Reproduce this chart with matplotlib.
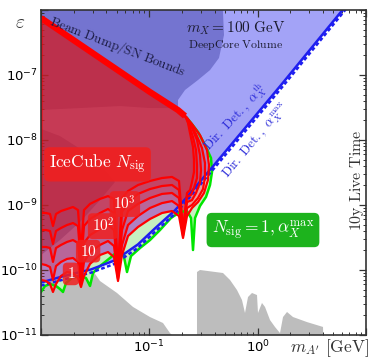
import numpy as np
import matplotlib
matplotlib.use("Agg")
import matplotlib.pyplot as plt
from matplotlib.path import Path
from matplotlib.patches import PathPatch, Polygon
from matplotlib import ticker

# ---------------- data (m in GeV, epsilon) ----------------
# common upper edge of the IceCube sensitivity region
top_m = [0.0100, 0.0434, 0.1014, 0.1839, 0.2135]
top_eps = [7.53e-7, 1.43e-7, 5.47e-8, 2.89e-8, 2.34e-8]

# common mass grid of the lower edge of the N_sig contours
bot_m = [0.0100, 0.01112, 0.01211, 0.01290, 0.01375, 0.01530, 0.01738, 0.01974,
         0.02195, 0.02340, 0.02494, 0.02834, 0.03504, 0.04155, 0.04720, 0.05138,
         0.05594, 0.06356, 0.07862, 0.1014, 0.1309, 0.1619, 0.1879, 0.2046, 0.2227]

n1_eps = [7.02e-11, 6.77e-11, 6.09e-11, 4.59e-11, 6.09e-11, 8.08e-11, 9.31e-11, 8.99e-11,
          7.53e-11, 5.47e-11, 8.08e-11, 1.24e-10, 1.70e-10, 1.89e-10, 1.58e-10, 6.77e-11,
          1.70e-10, 3.33e-10, 4.59e-10, 6.09e-10, 7.53e-10, 8.08e-10, 6.77e-10, 3.11e-10, 6.77e-10]
n1_rm = [0.2477, 0.2813, 0.3196, 0.3480, 0.3555, 0.3407, 0.2935, 0.2477, 0.2227]
n1_re = [8.99e-10, 1.11e-9, 1.53e-9, 2.43e-9, 4.12e-9, 7.02e-9, 1.19e-8, 1.76e-8, 2.18e-8]

n10_eps = [1.24e-10, 1.19e-10, 1.11e-10, 7.02e-11, 1.15e-10, 1.33e-10, 1.48e-10, 1.53e-10,
           1.33e-10, 6.09e-11, 1.33e-10, 1.89e-10, 2.43e-10, 2.79e-10, 2.34e-10, 7.27e-11,
           2.43e-10, 4.92e-10, 6.77e-10, 8.99e-10, 1.07e-9, 1.15e-9, 9.66e-10, 3.33e-10, 8.99e-10]
n10_rm = [0.2477, 0.2813, 0.3129, 0.3265, 0.3265, 0.3062, 0.2697, 0.2374, 0.2227]
n10_re = [1.0e-9, 1.28e-9, 1.76e-9, 2.70e-9, 4.43e-9, 7.53e-9, 1.24e-8, 1.83e-8, 2.18e-8]

n100_eps = [2.26e-10, 2.26e-10, 2.18e-10, 1.33e-10, 2.18e-10, 2.43e-10, 2.70e-10, 2.89e-10,
            2.60e-10, 8.08e-11, 2.60e-10, 3.45e-10, 4.27e-10, 4.92e-10, 4.12e-10, 7.80e-11,
            4.12e-10, 8.08e-10, 1.04e-9, 1.28e-9, 1.48e-9, 1.53e-9, 1.28e-9, 3.58e-10, 1.11e-9]
n100_rm = [0.2477, 0.2697, 0.2935, 0.2999, 0.2935, 0.2754, 0.2477, 0.2275]
n100_re = [1.19e-9, 1.53e-9, 2.18e-9, 3.45e-9, 5.88e-9, 1.0e-8, 1.53e-8, 2.03e-8]

n1e3_eps = [4.12e-10, 4.12e-10, 3.98e-10, 2.51e-10, 3.98e-10, 4.43e-10, 4.92e-10, 5.28e-10,
            4.75e-10, 1.19e-10, 4.75e-10, 6.09e-10, 7.53e-10, 8.67e-10, 7.53e-10, 8.37e-11,
            7.80e-10, 1.11e-9, 1.48e-9, 1.76e-9, 1.96e-9, 2.03e-9, 1.70e-9, 3.84e-10, 1.33e-9]
n1e3_rm = [0.2425, 0.2584, 0.2754, 0.2754, 0.2697, 0.2530, 0.2324, 0.2227]
n1e3_re = [1.43e-9, 1.83e-9, 2.60e-9, 4.12e-9, 7.02e-9, 1.11e-8, 1.70e-8, 2.10e-8]

n1e4_eps = [7.53e-10, 7.53e-10, 7.27e-10, 4.75e-10, 7.27e-10, 8.08e-10, 8.67e-10, 9.31e-10,
            8.37e-10, 2.03e-10, 8.37e-10, 1.04e-9, 1.24e-9, 1.37e-9, 1.24e-9, 1.0e-10,
            1.28e-9, 1.64e-9, 2.03e-9, 2.34e-9, 2.60e-9, 2.70e-9, 2.34e-9, 4.12e-10, 1.53e-9]
n1e4_rm = [0.2374, 0.2477, 0.2584, 0.2584, 0.2530, 0.2374, 0.2275, 0.2181]
n1e4_re = [1.70e-9, 2.26e-9, 3.22e-9, 4.92e-9, 7.80e-9, 1.28e-8, 1.83e-8, 2.18e-8]

# N_sig = 1 with alpha_X^max (green), lower edge left->right then up the right side
green_m = [0.0100, 0.01089, 0.01211, 0.01375, 0.01497, 0.01596, 0.01702, 0.01933, 0.02291,
           0.02602, 0.02834, 0.03020, 0.03504, 0.04336, 0.05138, 0.05714, 0.06222, 0.06774,
           0.08204, 0.1014, 0.1254, 0.1585, 0.1919, 0.2227, 0.2425, 0.2530, 0.2640, 0.2935,
           0.3335, 0.3631, 0.3789, 0.3709, 0.3265, 0.2813, 0.2425, 0.2227]
green_eps = [4.59e-11, 5.68e-11, 6.09e-11, 5.68e-11, 5.1e-11, 4.59e-11, 6.31e-11, 7.53e-11,
             8.08e-11, 7.53e-11, 5.68e-11, 8.99e-11, 1.15e-10, 1.53e-10, 1.96e-10, 1.89e-10,
             9.31e-11, 1.64e-10, 2.18e-10, 2.89e-10, 4.12e-10, 6.31e-10, 7.80e-10, 8.08e-10,
             6.31e-10, 2.03e-10, 6.31e-10, 9.66e-10, 1.33e-9, 2.03e-9, 3.22e-9, 5.28e-9,
             8.37e-9, 1.33e-8, 1.83e-8, 2.18e-8]

# direct detection bounds
dd_m = [0.0100, 0.01596, 0.02895, 0.04821, 0.07862, 0.1128, 0.1726, 0.2135, 0.3870, 1.608, 6.134, 7.43]
dd_th_eps = [6.4e-11, 8.0e-11, 1.02e-10, 1.41e-10, 2.48e-10, 4.37e-10, 8.3e-10, 1.22e-9,
             3.93e-9, 6.7e-8, 1.02e-6, 1.52e-6]
dd_max_eps = [5.75e-11, 7.1e-11, 9.1e-11, 1.25e-10, 2.2e-10, 3.88e-10, 7.35e-10, 1.08e-9,
              3.5e-9, 5.95e-8, 9.1e-7, 1.35e-6]

# beam dump and supernova bounds
bd_m = [0.0095, 0.4687, 0.4889, 0.4395, 0.3631, 0.2813, 0.2135, 0.1839, 0.1839, 0.1014,
        0.05361, 0.02291, 0.0095]
bd_eps = [2e-6, 2e-6, 4.12e-7, 1.83e-7, 1.19e-7, 8.37e-8, 5.88e-8, 4.12e-8, 3.10e-8, 3.10e-8,
          3.33e-8, 3.10e-8, 2.89e-8]
sn_m = [0.0095, 0.01497, 0.02548, 0.03898, 0.04821, 0.03504, 0.02291, 0.01497, 0.0095]
sn_eps = [1.53e-8, 1.15e-8, 6.54e-9, 3.45e-9, 2.26e-9, 1.19e-9, 5.47e-10, 2.89e-10, 1.58e-10]

# grey bounds
gl_m = [0.0095, 0.0095, 0.01596, 0.03020, 0.03504, 0.05030, 0.07068, 0.1014, 0.1337, 0.1552, 0.1619, 0.165]
gl_eps = [1e-12, 6.09e-11, 7.53e-11, 9.66e-11, 6.77e-11, 4.43e-11, 2.70e-11, 1.89e-11, 1.53e-11,
          1.07e-11, 1.0e-11, 1e-12]
gr_m = [0.2754, 0.2754, 0.2935, 0.4786, 0.5557, 0.6445, 0.7168, 0.7640, 0.8145, 0.8866, 0.9860,
        1.007, 1.096, 1.169, 1.300, 1.445, 1.608, 1.714, 1.866, 2.120, 2.854, 4.010, 4.183]
gr_eps = [1e-12, 9.31e-11, 1.0e-10, 8.99e-11, 7.02e-11, 4.92e-11, 3.45e-11, 2.18e-11, 3.84e-11,
          4.43e-11, 4.12e-11, 2.18e-11, 3.11e-11, 2.70e-11, 1.70e-11, 1.33e-11, 1.07e-11,
          1.89e-11, 2.26e-11, 1.89e-11, 1.58e-11, 1.33e-11, 1e-12]

x_major = [0.01, 0.1, 1, 10]
x_labeled = [0.1, 1]
y_major = [1e-11, 1e-10, 1e-9, 1e-8, 1e-7, 1e-6]
y_labeled = [1e-11, 1e-10, 1e-9, 1e-8, 1e-7]
contour_labels = ["$1$", "$10$", "$10^2$", "$10^3$"]

# ---------------- figure ----------------
W, H = 374, 363
fig = plt.figure(figsize=(W / 100, H / 100), dpi=100)
ax = fig.add_axes([41 / W, 28 / H, 325 / W, 325 / H])
ax.set_xscale("log")
ax.set_yscale("log")
ax.set_xlim(0.01, 10)
ax.set_ylim(1e-11, 1e-6)

CM = dict(math_fontfamily="cm")

# light blue: direct detection
ax.fill_between(dd_m, dd_th_eps, 1e-4, color="#A3A3F7", lw=0, zorder=1)
# grey bounds
ax.add_patch(Polygon(list(zip(gl_m, gl_eps)), closed=True, fc="#BDBDBD", ec="none", zorder=1.2))
ax.add_patch(Polygon(list(zip(gr_m, gr_eps)), closed=True, fc="#BDBDBD", ec="none", zorder=1.2))
# dark blue: beam dump / SN
ax.add_patch(Polygon(list(zip(bd_m, bd_eps)), closed=True, fc="#7474D0", ec="none", zorder=1.5))
ax.add_patch(Polygon(list(zip(sn_m, sn_eps)), closed=True, fc="#7474D0", ec="none", zorder=1.5))


def contour(rm, re, be):
    m = list(top_m) + list(rm[::-1]) + list(bot_m[::-1])
    e = list(top_eps) + list(re[::-1]) + list(be[::-1])
    return np.array(m), np.array(e)


def signed_area(x, y):
    lx, ly = np.log10(x), np.log10(y)
    return 0.5 * np.sum(lx * np.roll(ly, -1) - np.roll(lx, -1) * ly)


contours = [contour(n1_rm, n1_re, n1_eps), contour(n10_rm, n10_re, n10_eps),
            contour(n100_rm, n100_re, n100_eps), contour(n1e3_rm, n1e3_re, n1e3_eps),
            contour(n1e4_rm, n1e4_re, n1e4_eps)]

# green region between N_sig=1 (alpha max) and the red N=1 contour
gm = np.array(list(top_m) + green_m[::-1])
ge = np.array(list(top_eps) + green_eps[::-1])
im, ie = contours[0]
if np.sign(signed_area(gm, ge)) == np.sign(signed_area(im, ie)):
    im, ie = im[::-1], ie[::-1]
verts = list(zip(gm, ge)) + [(gm[0], ge[0])] + list(zip(im, ie)) + [(im[0], ie[0])]
codes = ([Path.MOVETO] + [Path.LINETO] * (len(gm) - 1) + [Path.CLOSEPOLY]
         + [Path.MOVETO] + [Path.LINETO] * (len(im) - 1) + [Path.CLOSEPOLY])
ax.add_patch(PathPatch(Path(verts, codes), fc="#C6F0C0", ec="none", zorder=2))

# red nested fills
for m, e in contours:
    ax.add_patch(Polygon(list(zip(m, e)), closed=True, fc="#D21E28", alpha=0.26,
                         ec="none", zorder=2.5))

# green line
ax.plot(green_m, green_eps, color="#00E600", lw=1.8, zorder=3, solid_joinstyle="round")

# direct detection lines
ax.plot(dd_m, dd_th_eps, color="#1E1EF0", lw=1.8, zorder=3.5)
ax.plot(dd_m, dd_max_eps, color="#1E1EF0", lw=1.8, ls=(0, (1.5, 1.0)), zorder=3.5)

# red contour lines
for m, e in contours:
    ax.plot(np.append(m, m[0]), np.append(e, e[0]), color="#FF0000", lw=1.6, zorder=4,
            solid_joinstyle="round")
ax.plot(top_m, top_eps, color="#FF0000", lw=4.5, zorder=4.1, solid_capstyle="butt")

# ---------------- texts ----------------
T = ax.transAxes
ax.text(0.237, 0.889, r"$\mathrm{Beam\ Dump/SN\ Bounds}$", transform=T, rotation=-21,
        ha="center", va="center", fontsize=9.5, color="#1c1c44", zorder=6, **CM)
ax.text(0.60, 0.945, r"$m_X = 100\ \mathrm{GeV}$", transform=T, ha="center", va="center",
        fontsize=11, color="#1c1c30", zorder=6, **CM)
ax.text(0.60, 0.892, r"$\mathrm{DeepCore\ Volume}$", transform=T, ha="center", va="center",
        fontsize=8.5, color="#1c1c30", zorder=6, **CM)
ax.text(0.598, 0.670, r"$\mathrm{Dir.\ Det.,}\ \alpha_X^{\rm th}$", transform=T, rotation=47,
        ha="center", va="center", fontsize=9.5, color="#2828D8", zorder=6, **CM)
ax.text(0.660, 0.598, r"$\mathrm{Dir.\ Det.,}\ \alpha_X^{\rm max}$", transform=T, rotation=50,
        ha="center", va="center", fontsize=9.5, color="#2828D8", zorder=6, **CM)
ax.text(0.174, 0.525, r"$\mathrm{IceCube}\ N_{\rm sig}$", transform=T, ha="center",
        va="center", fontsize=12.5, color="white", zorder=6,
        bbox=dict(boxstyle="round,pad=0.3,rounding_size=0.3", fc="#F02020", ec="none", alpha=0.9),
        **CM)
for (fx, fy), lab in zip([(0.092, 0.188), (0.145, 0.258), (0.191, 0.335), (0.258, 0.403)],
                         contour_labels):
    ax.text(fx, fy, lab, transform=T, ha="center", va="center", fontsize=11, color="white",
            zorder=6, bbox=dict(boxstyle="round,pad=0.25,rounding_size=0.3", fc="#F02020",
                                ec="none", alpha=0.85), **CM)
ax.text(0.683, 0.323, r"$N_{\rm sig} = 1, \alpha_X^{\rm max}$", transform=T, ha="center",
        va="center", fontsize=12.5, color="white", zorder=6,
        bbox=dict(boxstyle="round,pad=0.3,rounding_size=0.3", fc="#1DB31D", ec="none"), **CM)
ax.text(0.972, 0.477, r"$10\mathrm{y\ Live\ Time}$", transform=T, rotation=90, ha="center",
        va="center", fontsize=11.5, color="#333333", zorder=6, **CM)

fig.text(20 / W, 1 - 22 / H, r"$\varepsilon$", ha="center", va="center", fontsize=14,
         color="#333333", **CM)
fig.text(330 / W, 1 - 348 / H, r"$m_{A'}\ [\mathrm{GeV}]$", ha="center", va="center",
         fontsize=12.5, color="#333333", **CM)

# ---------------- axes styling ----------------
def fmt_factory(labeled):
    def f(v, pos):
        if any(abs(np.log10(v) - np.log10(l)) < 1e-6 for l in labeled):
            return r"$\mathdefault{10^{%d}}$" % round(np.log10(v))
        return ""
    return f

ax.xaxis.set_major_locator(ticker.FixedLocator(x_major))
ax.yaxis.set_major_locator(ticker.FixedLocator(y_major))
ax.xaxis.set_major_formatter(ticker.FuncFormatter(fmt_factory(x_labeled)))
ax.yaxis.set_major_formatter(ticker.FuncFormatter(fmt_factory(y_labeled)))
ax.xaxis.set_minor_locator(ticker.LogLocator(base=10, subs=np.arange(2, 10), numticks=20))
ax.yaxis.set_minor_locator(ticker.LogLocator(base=10, subs=np.arange(2, 10), numticks=20))
ax.xaxis.set_minor_formatter(ticker.NullFormatter())
ax.yaxis.set_minor_formatter(ticker.NullFormatter())
ax.tick_params(which="both", direction="in", top=True, right=True, color="#333333",
               labelsize=9.5, zorder=10)
ax.tick_params(which="major", length=5, width=0.9, pad=2.5)
ax.tick_params(which="minor", length=2.5, width=0.7)
for s in ax.spines.values():
    s.set_color("#333333")
    s.set_linewidth(1.2)
    s.set_zorder(10)

fig.savefig("out.png", dpi=100)
